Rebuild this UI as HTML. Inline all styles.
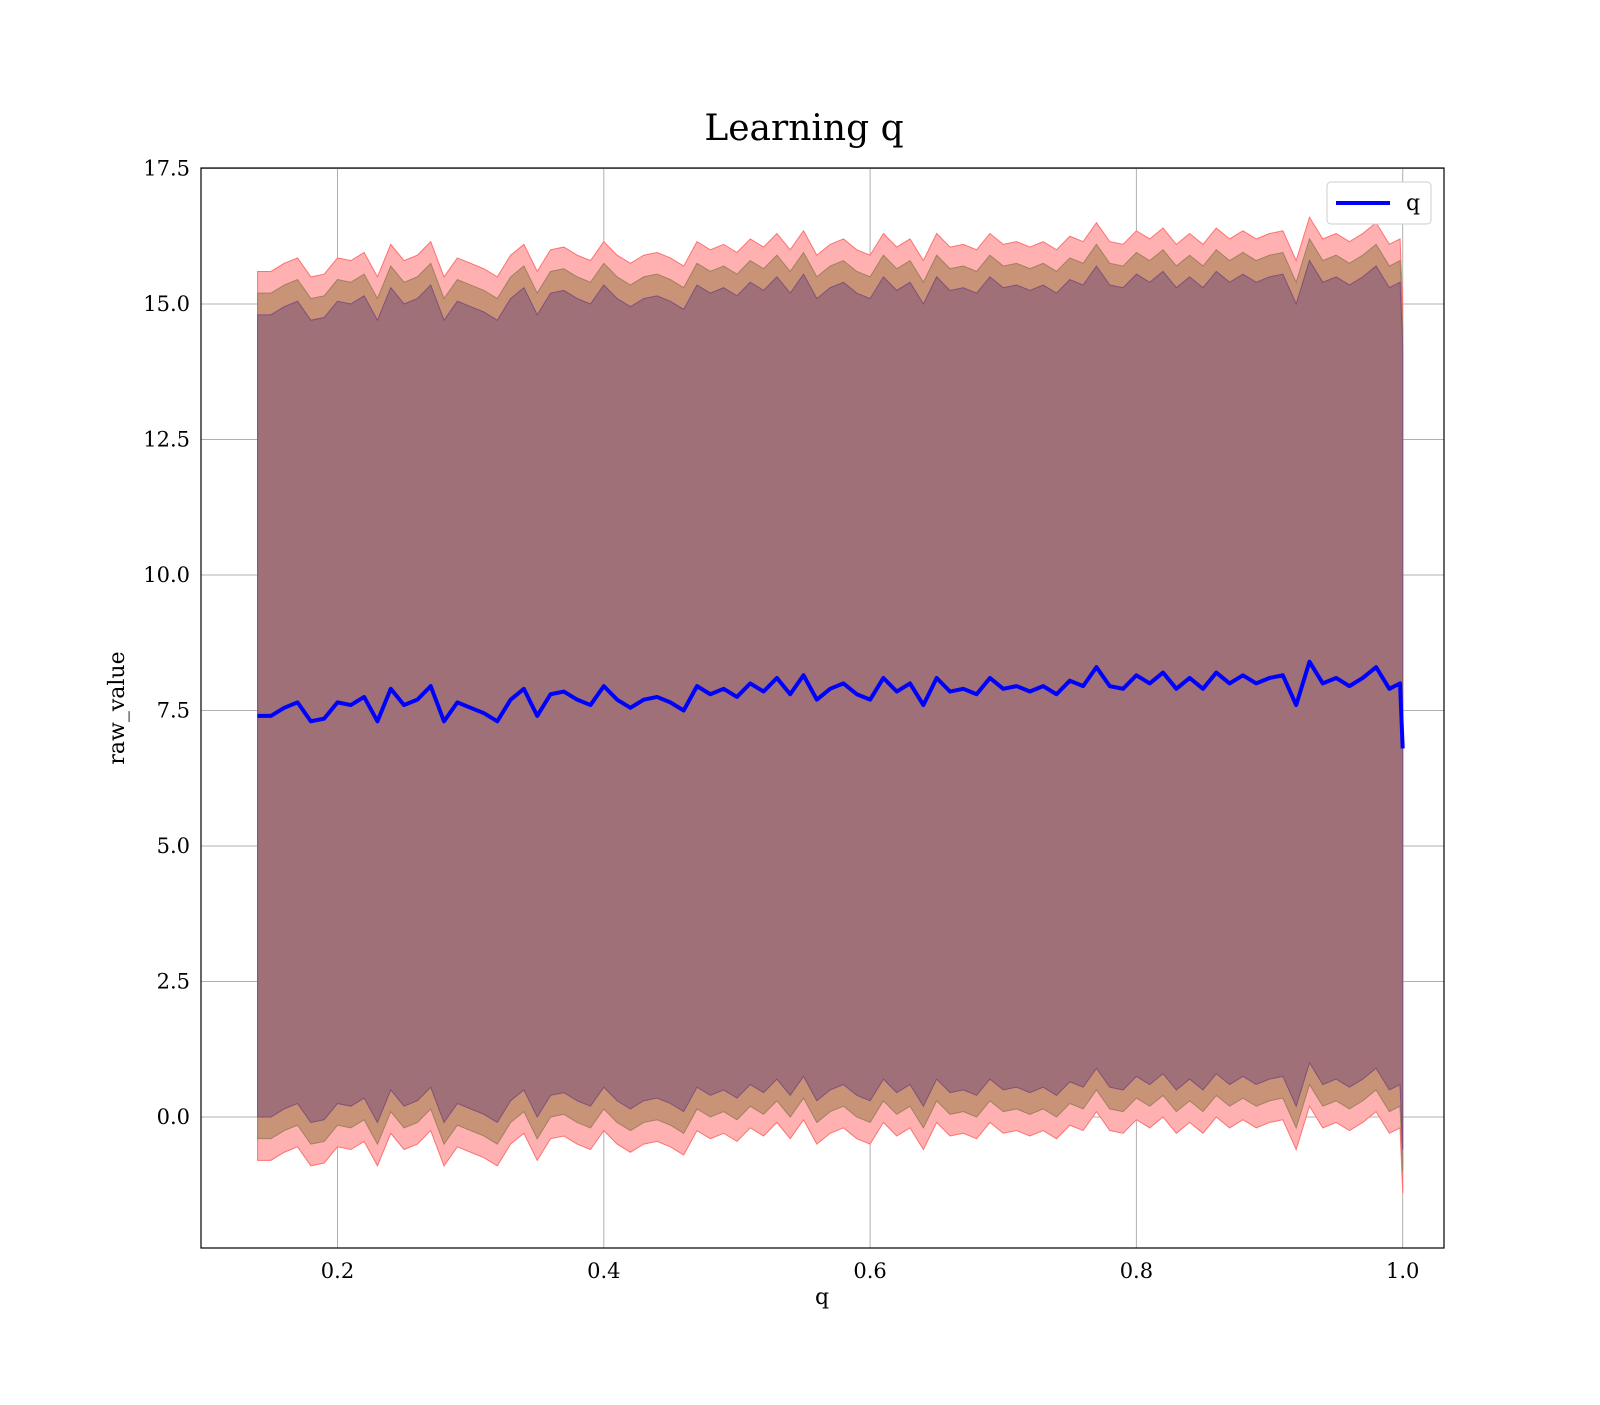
<!DOCTYPE html>
<html><head><meta charset="utf-8"><style>
body{margin:0;background:#fff}
text{font-family:"DejaVu Serif","Liberation Serif",serif}
</style></head><body>
<svg id="chart" width="1600" height="1400" xmlns="http://www.w3.org/2000/svg">
<text x="804" y="140" font-size="36" text-anchor="middle">Learning q</text>
<g id="grid"></g>
<g id="fills"></g>
<g id="lines"></g>
<rect x="201" y="168" width="1243" height="1080" fill="none" stroke="#000" stroke-width="1.2"/>
<g id="ticks"></g>
<text x="822" y="1304" font-size="22" text-anchor="middle">q</text>
<text x="124" y="708" font-size="22" text-anchor="middle" transform="rotate(-90 124 708)">raw_value</text>
<g>
<rect x="1327" y="182" width="104" height="42" rx="4" fill="#fff" stroke="#ccc"/>
<line x1="1336" y1="203" x2="1390" y2="203" stroke="#00f" stroke-width="4"/>
<text x="1406" y="210" font-size="22">q</text>
</g>
</svg>
<script>
const xs=[0.14,0.15,0.16,0.17,0.18,0.19,0.20,0.21,0.22,0.23,0.24,0.25,0.26,0.27,0.28,0.29,0.30,0.31,0.32,0.33,0.34,0.35,0.36,0.37,0.38,0.39,0.40,0.41,0.42,0.43,0.44,0.45,0.46,0.47,0.48,0.49,0.50,0.51,0.52,0.53,0.54,0.55,0.56,0.57,0.58,0.59,0.60,0.61,0.62,0.63,0.64,0.65,0.66,0.67,0.68,0.69,0.70,0.71,0.72,0.73,0.74,0.75,0.76,0.77,0.78,0.79,0.80,0.81,0.82,0.83,0.84,0.85,0.86,0.87,0.88,0.89,0.90,0.91,0.92,0.93,0.94,0.95,0.96,0.97,0.98,0.99,0.998,1.0];
const meanVals=[7.4,7.4,7.55,7.65,7.3,7.35,7.65,7.6,7.75,7.3,7.9,7.6,7.7,7.95,7.3,7.65,7.55,7.45,7.3,7.7,7.9,7.4,7.8,7.85,7.7,7.6,7.95,7.7,7.55,7.7,7.75,7.65,7.5,7.95,7.8,7.9,7.75,8.0,7.85,8.1,7.8,8.15,7.7,7.9,8.0,7.8,7.7,8.1,7.85,8.0,7.6,8.1,7.85,7.9,7.8,8.1,7.9,7.95,7.85,7.95,7.8,8.05,7.95,8.3,7.95,7.9,8.15,8.0,8.2,7.9,8.1,7.9,8.2,8.0,8.15,8.0,8.1,8.15,7.6,8.4,8.0,8.1,7.95,8.1,8.3,7.9,8.0,6.8];
const bandOffsets=[8.2,7.8,7.4];
const xTicks=[0.2,0.4,0.6,0.8,1.0];
const xTickLabels=["0.2","0.4","0.6","0.8","1.0"];
const yTicks=[0,2.5,5,7.5,10,12.5,15,17.5];
const yTickLabels=["0.0","2.5","5.0","7.5","10.0","12.5","15.0","17.5"];
const X=v=>326+(v-0.2)*1287.5*1.0345;
const Y=v=>1094*1.0212-v*53*1.0216+ (1094-1094*1.0212);
function sx(v){return 337.5+(v-0.2)*1331.5;}
function sy(v){return 1117-v*54.2;}
const NS="http://www.w3.org/2000/svg";
const grid=document.getElementById('grid'),fills=document.getElementById('fills'),lines=document.getElementById('lines'),ticks=document.getElementById('ticks');
xTicks.forEach((t,i)=>{
 const l=document.createElementNS(NS,'line');
 l.setAttribute('x1',sx(t));l.setAttribute('x2',sx(t));l.setAttribute('y1',168);l.setAttribute('y2',1248);l.setAttribute('stroke','#b0b0b0');
 
 
 grid.appendChild(l);
 const tx=document.createElementNS(NS,'text');
 tx.setAttribute('x',sx(t));tx.setAttribute('y',1278);tx.setAttribute('font-size','21');tx.setAttribute('text-anchor','middle');tx.textContent=xTickLabels[i];
 
 
 ticks.appendChild(tx);
});
yTicks.forEach((t,i)=>{
 const l=document.createElementNS(NS,'line');
 l.setAttribute('x1',201);l.setAttribute('x2',1444);l.setAttribute('y1',sy(t));l.setAttribute('y2',sy(t));l.setAttribute('stroke','#b0b0b0');
 
 
 grid.appendChild(l);
 const tx=document.createElementNS(NS,'text');
 tx.setAttribute('x',190);tx.setAttribute('y',sy(t)+7);tx.setAttribute('font-size','21');tx.setAttribute('text-anchor','end');tx.textContent=yTickLabels[i];
 
 
 ticks.appendChild(tx);
});
const fillColors=['#ffb0b0','#c99378','#a07078'];
const strokeColors=['#ff7070','#a08060','#80507a'];
const bandNames=['band-outer','band-middle','band-inner'];
bandOffsets.forEach((o,b)=>{
 let d='M'+xs.map((x,i)=>sx(x)+','+sy(meanVals[i]+o)).join('L');
 for(let i=xs.length-1;i>=0;i--)d+='L'+sx(xs[i])+','+sy(meanVals[i]-o);
 d+='Z';
 const p=document.createElementNS(NS,'path');
 p.setAttribute('d',d);p.setAttribute('fill',fillColors[b]);p.setAttribute('stroke',strokeColors[b]);p.setAttribute('stroke-width','1');
 
 
 fills.appendChild(p);
});
const line=document.createElementNS(NS,'path');
line.setAttribute('d','M'+xs.map((x,i)=>sx(x)+','+sy(meanVals[i])).join('L'));
line.setAttribute('fill','none');line.setAttribute('stroke','#0000ff');line.setAttribute('stroke-width','4');line.setAttribute('stroke-linejoin','round');


lines.appendChild(line);
</script>
</body></html>
